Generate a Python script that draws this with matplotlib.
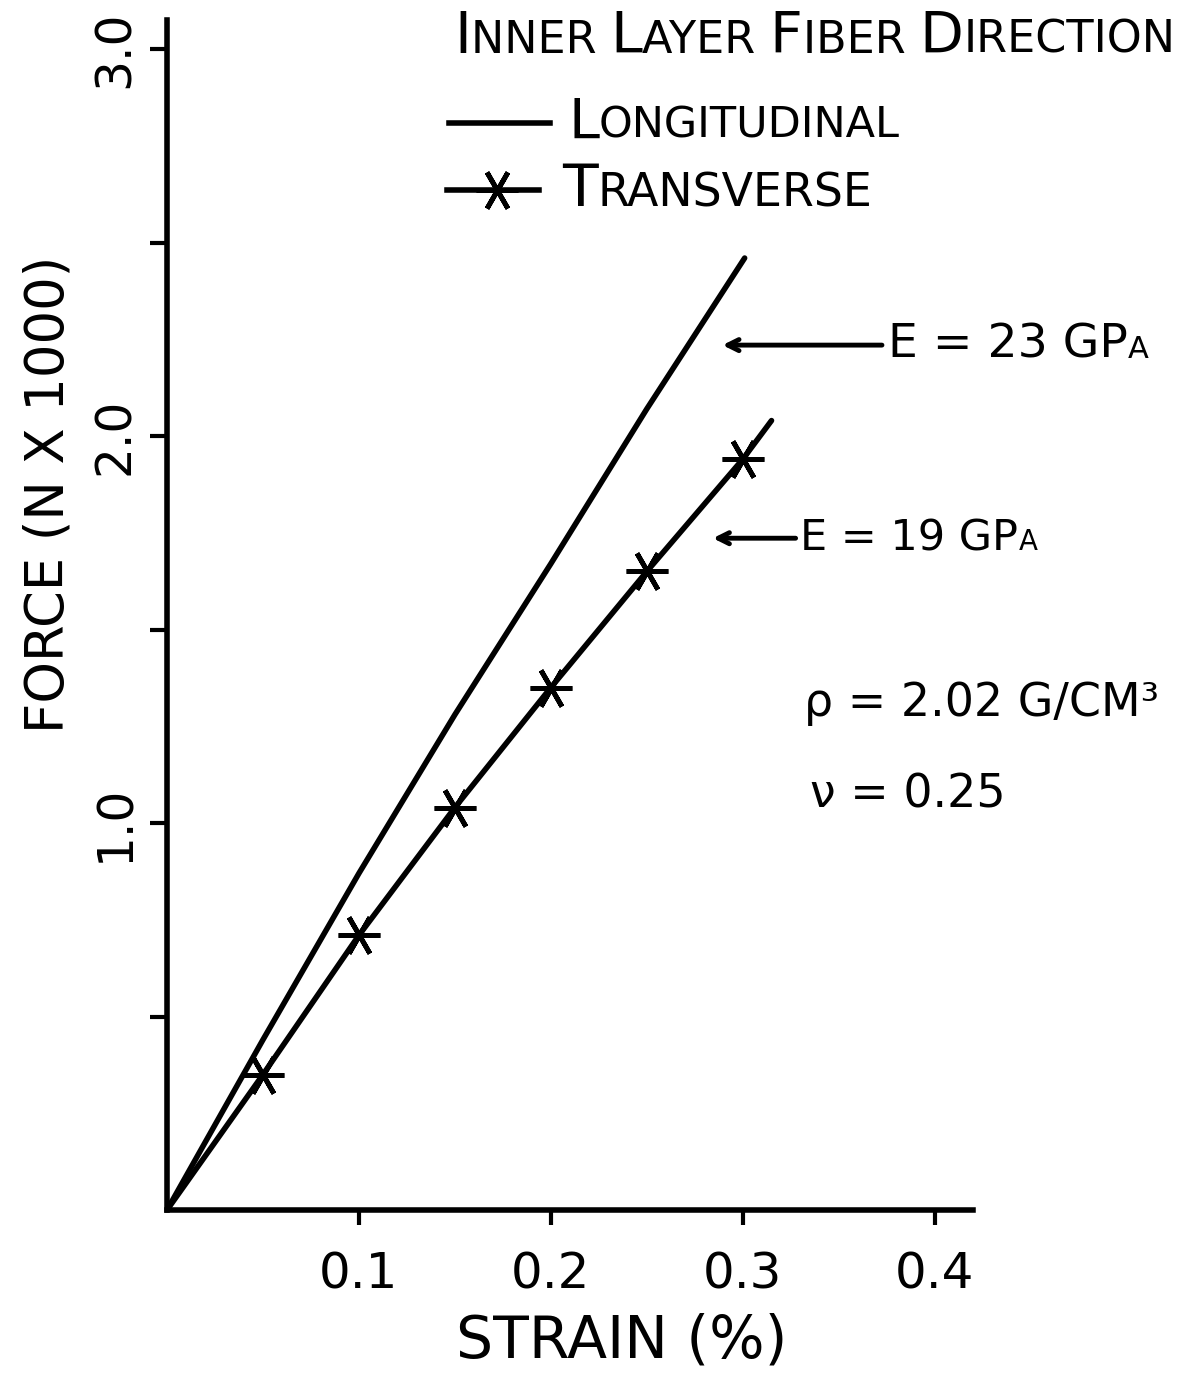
#!/usr/bin/env python3
"""
Force vs. strain for the two inner-layer fibre directions,
with the fitted moduli and material constants written on the plot.
"""

import matplotlib
matplotlib.use('Agg')
import matplotlib.pyplot as plt
from matplotlib.offsetbox import TextArea, HPacker, AnnotationBbox

# Longitudinal fibre direction (plain line)
strain_long = [0.0, 0.05, 0.10, 0.15, 0.20, 0.25, 0.301]
force_long = [0.0, 0.44, 0.87, 1.28, 1.67, 2.07, 2.46]

# Transverse fibre direction (asterisks on the measured points)
strain_trans = [0.0, 0.05, 0.10, 0.15, 0.20, 0.25, 0.30, 0.315]
force_trans = [0.0, 0.35, 0.71, 1.04, 1.35, 1.65, 1.94, 2.04]

x_ticks = [0.1, 0.2, 0.3, 0.4]
x_tick_labels = ['0.1', '0.2', '0.3', '0.4']
y_ticks = [0.5, 1.0, 1.5, 2.0, 2.5, 3.0]
y_tick_labels = ['', '1.0', '', '2.0', '', '3.0']

modulus_text = ['E = 23 GP', 'E = 19 GP']
density_text = 'ρ = 2.02 G/CM³'
poisson_text = 'ν = 0.25'

STAR = (6, 2, 90)
LW = 4.0


def small_caps(ax, text, xy, big, small):
    """Place text with a large first letter per word and small caps for the rest."""
    parts = []
    words = text.split(' ')
    for i, word in enumerate(words):
        parts.append(TextArea(word[0], textprops=dict(fontsize=big)))
        rest = word[1:] + (' ' if i < len(words) - 1 else '')
        if rest:
            parts.append(TextArea(rest, textprops=dict(fontsize=small)))
    box = HPacker(children=parts, align='baseline', pad=0, sep=0)
    ax.add_artist(AnnotationBbox(box, xy, xycoords='data', box_alignment=(0, 0.5),
                                 frameon=False, pad=0, annotation_clip=False))


def mixed(ax, big_text, small_text, xy, big, small):
    """Big text followed by a smaller trailing piece on the same baseline."""
    box = HPacker(children=[TextArea(big_text, textprops=dict(fontsize=big)),
                            TextArea(small_text, textprops=dict(fontsize=small))],
                  align='baseline', pad=0, sep=0)
    ax.add_artist(AnnotationBbox(box, xy, xycoords='data', box_alignment=(0, 0.5),
                                 frameon=False, pad=0, annotation_clip=False))


def main():
    plt.rcParams['font.family'] = ['DejaVu Sans']

    fig = plt.figure(figsize=(11.81, 13.73), dpi=100)
    ax = fig.add_axes([0.1414, 0.1187, 0.6825, 0.8667])

    ax.plot(strain_long, force_long, color='black', lw=LW, solid_capstyle='round')
    ax.plot(strain_trans, force_trans, color='black', lw=LW, solid_capstyle='round',
            marker=STAR, markersize=30, markeredgewidth=3.5, markevery=slice(1, 7))

    ax.set_xlim(0, 0.42)
    ax.set_ylim(0, 3.075)

    for side in ('top', 'right'):
        ax.spines[side].set_visible(False)
    for side in ('left', 'bottom'):
        ax.spines[side].set_linewidth(4.0)

    ax.set_xticks(x_ticks)
    ax.set_xticklabels(x_tick_labels, fontsize=36)
    ax.set_yticks(y_ticks)
    ax.set_yticklabels(y_tick_labels, fontsize=35, rotation=90, va='center')
    ax.tick_params(axis='x', direction='out', length=11, width=3, pad=18)
    ax.tick_params(axis='y', direction='out', length=12, width=3, pad=8)

    ax.set_xlabel('STRAIN (%)', fontsize=42)
    ax.xaxis.set_label_coords(0.5645, -0.086)
    ax.text(-0.147, 0.601, 'FORCE (N X 1000)', fontsize=38, rotation=90,
            ha='center', va='center', transform=ax.transAxes)

    # Title and key
    small_caps(ax, 'INNER LAYER FIBER DIRECTION', (0.1495, 3.03), 41, 32)
    ax.plot([0.147, 0.1995], [2.81, 2.81], color='black', lw=LW, clip_on=False)
    small_caps(ax, 'LONGITUDINAL', (0.209, 2.81), 40, 31)
    ax.plot([0.146, 0.194], [2.636, 2.636], color='black', lw=LW, clip_on=False)
    ax.plot([0.172], [2.636], color='black', marker=STAR, markersize=30,
            markeredgewidth=3.5, clip_on=False)
    small_caps(ax, 'TRANSVERSE', (0.2057, 2.636), 42, 33)

    # Moduli with arrows pointing at each line
    arrow = dict(arrowstyle='->,head_length=0.8,head_width=0.4', lw=3.5, color='black')
    ax.annotate('', xy=(0.288, 2.235), xytext=(0.374, 2.235),
                arrowprops=arrow, annotation_clip=False)
    mixed(ax, modulus_text[0], 'A', (0.3755, 2.235), 34, 22)
    ax.annotate('', xy=(0.283, 1.736), xytext=(0.329, 1.736),
                arrowprops=arrow, annotation_clip=False)
    mixed(ax, modulus_text[1], 'A', (0.330, 1.736), 31, 20)

    ax.text(0.332, 1.31, density_text, fontsize=33, va='center', ha='left', clip_on=False)
    ax.text(0.335, 1.072, poisson_text, fontsize=33, va='center', ha='left', clip_on=False)

    fig.savefig('out.png', dpi=100)
    plt.close(fig)


if __name__ == '__main__':
    main()
